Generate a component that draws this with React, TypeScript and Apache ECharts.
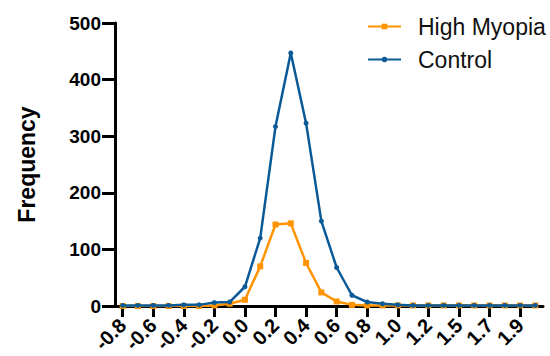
import React, { useEffect, useRef } from "react";
import * as echarts from "echarts";

const categories = [
  "-0.8", "-0.7", "-0.6", "-0.5", "-0.4", "-0.3", "-0.2", "-0.1", "0.0", "0.1",
  "0.2", "0.3", "0.4", "0.5", "0.6", "0.7", "0.8", "0.9", "1.0", "1.1",
  "1.2", "1.4", "1.5", "1.6", "1.7", "1.8", "1.9", "2.0",
];
const highMyopia = [0, 0, 0, 0, 0, 0, 1, 4, 11, 70, 144, 146, 76, 24, 8, 2, 1, 1, 1, 1, 1, 1, 1, 1, 1, 1, 1, 1];
const control = [1, 1, 1, 1, 2, 2, 6, 7, 34, 120, 317, 447, 323, 150, 68, 19, 7, 4, 2, 1, 1, 1, 1, 1, 1, 1, 1, 1];
const yTicks = { min: 0, max: 500, interval: 100 };

const FONT = 'Arial, "Liberation Sans", Helvetica, sans-serif';
const ORANGE = "#FF9400";
const BLUE = "#0A5A98";

export default function App() {
  const ref = useRef<HTMLDivElement>(null);
  useEffect(() => {
    if (!ref.current) return;
    const chart = echarts.init(ref.current, null, { renderer: "svg" });
    chart.setOption({
      animation: false,
      grid: { left: 115, right: 7, top: 23, bottom: 50, containLabel: false },
      legend: {
        orient: "vertical",
        left: 367,
        top: 15,
        padding: 0,
        itemWidth: 33,
        itemHeight: 7,
        itemGap: 10,
        textStyle: { fontFamily: FONT, fontSize: 23, color: "#111", padding: [0, 0, 0, 12] },
        data: ["High Myopia", "Control"],
      },
      xAxis: {
        type: "category",
        data: categories,
        boundaryGap: true,
        axisLine: { lineStyle: { color: "#000", width: 3 } },
        axisTick: { show: true, interval: 1, alignWithLabel: true, length: 11, lineStyle: { color: "#000", width: 3 } },
        axisLabel: {
          interval: 1,
          rotate: 45,
          margin: 16,
          fontFamily: FONT,
          fontWeight: "bold",
          fontSize: 20,
          color: "#000",
        },
      },
      yAxis: {
        type: "value",
        min: yTicks.min,
        max: yTicks.max,
        interval: yTicks.interval,
        name: "Frequency",
        nameLocation: "middle",
        nameGap: 77,
        nameTextStyle: { fontFamily: FONT, fontWeight: "bold", fontSize: 23, color: "#000" },
        splitLine: { show: false },
        axisLine: { show: true, lineStyle: { color: "#000", width: 3 } },
        axisTick: { show: true, length: 13, lineStyle: { color: "#000", width: 3 } },
        axisLabel: { margin: 14, fontFamily: FONT, fontWeight: "bold", fontSize: 19, color: "#000" },
      },
      series: [
        {
          name: "High Myopia",
          type: "line",
          data: highMyopia,
          symbol: "rect",
          symbolSize: 6,
          itemStyle: { color: ORANGE },
          lineStyle: { color: ORANGE, width: 2.5 },
          z: 2,
        },
        {
          name: "Control",
          type: "line",
          data: control,
          symbol: "circle",
          symbolSize: 5,
          itemStyle: { color: BLUE },
          lineStyle: { color: BLUE, width: 2.5 },
          z: 3,
        },
      ],
    });
    return () => chart.dispose();
  }, []);
  return <div ref={ref} style={{ width: 550, height: 356, position: "absolute", left: 0, top: 0 }} />;
}
